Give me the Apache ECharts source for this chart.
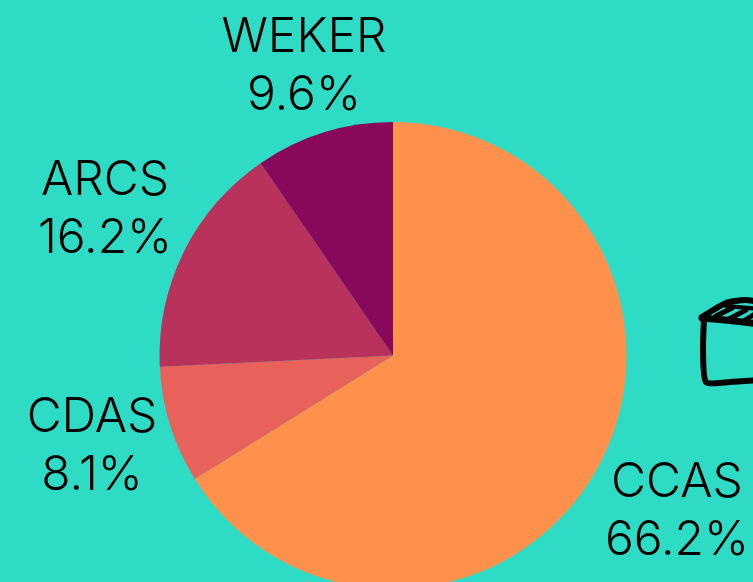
<!DOCTYPE html>
<html>
<head>
<meta charset="utf-8">
<style>
  html, body { margin: 0; padding: 0; background: #2EDBC4; overflow: hidden; }
  #chart { width: 753px; height: 582px; }
</style>
<script src="https://cdn.jsdelivr.net/npm/echarts@6/dist/echarts.min.js"></script>
</head>
<body>
<div id="chart"></div>
<script>
const categories = ['CCAS', 'CDAS', 'ARCS', 'WEKER'];
const shares = [66.2, 8.1, 16.2, 9.6];
const sliceColors = ['#FF914D', '#E8615A', '#B8325C', '#88085C'];

const chart = echarts.init(document.getElementById('chart'));

// label centres, the labels sit freely around the pie in the original
const labelSpots = [[677, 512], [92, 447], [105, 210], [304, 67]];

// hand drawn box at the right edge, cut off by the page
const sketch = (points, width) => ({
  type: 'polyline',
  silent: true,
  shape: { points: points, smooth: 0.2 },
  style: { stroke: '#000', fill: null, lineWidth: width, lineCap: 'round', lineJoin: 'round' },
});

chart.setOption({
  backgroundColor: '#2EDBC4',
  animation: false,
  series: [
    {
      type: 'pie',
      center: [393, 355.5],
      radius: [0, 233.5],
      startAngle: 90,
      clockwise: true,
      avoidLabelOverlap: false,
      data: categories.map((name, i) => ({
        name: name,
        value: shares[i],
        itemStyle: { color: sliceColors[i] },
      })),
      label: {
        show: true,
        position: 'outside',
        formatter: '{b}\n{c}%',
        color: '#000',
        fontFamily: 'Inter',
        fontWeight: 300,
        fontSize: 48,
        lineHeight: 58,
        align: 'center',
        verticalAlign: 'middle',
      },
      labelLine: { show: false },
      labelLayout: (params) => ({
        x: labelSpots[params.dataIndex][0],
        y: labelSpots[params.dataIndex][1],
        align: 'center',
        verticalAlign: 'middle',
      }),
      emphasis: { disabled: true },
    },
  ],
  graphic: [
    sketch([[702, 317], [726, 303], [745, 300], [760, 302]], 6),
    sketch([[702, 318], [725, 320], [760, 324]], 7),
    sketch([[704, 319], [703, 350], [706, 382], [730, 382], [760, 380]], 6),
    sketch([[716, 316], [732, 308]], 5),
    sketch([[729, 319], [746, 310]], 5),
    sketch([[742, 322], [758, 312]], 5),
    sketch([[726, 306], [760, 309]], 4),
  ],
});
</script>
</body>
</html>
